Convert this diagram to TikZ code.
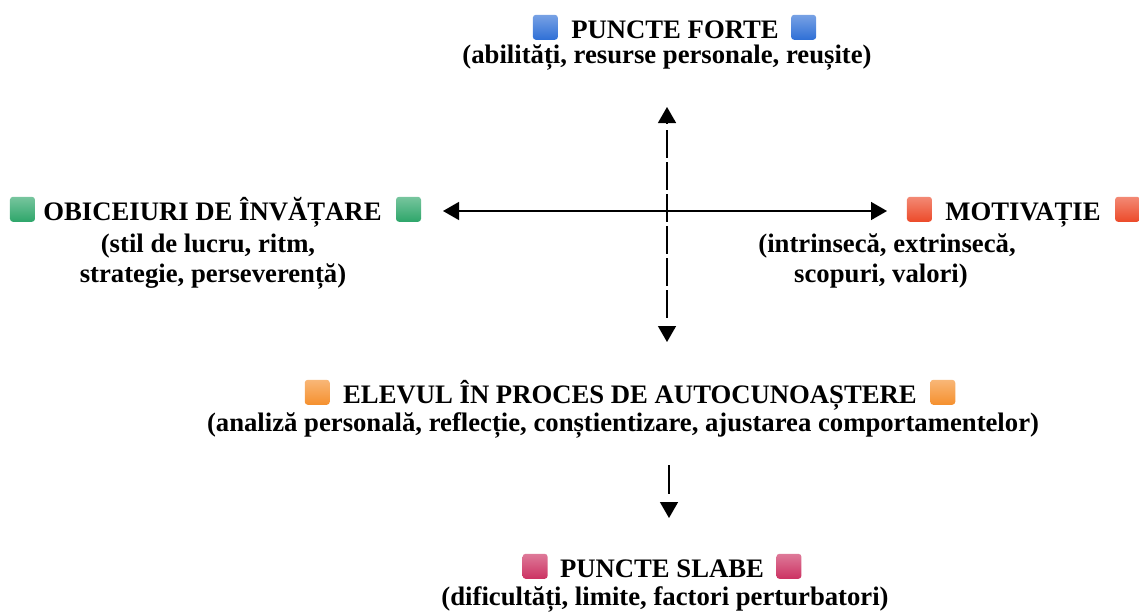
\documentclass[tikz,border=0pt]{standalone}
\usepackage{fontspec}
\setmainfont{Liberation Serif}
\usetikzlibrary{arrows.meta,positioning}
\definecolor{sqblue}{HTML}{2F6FD6}
\definecolor{sqgreen}{HTML}{2EA66A}
\definecolor{sqred}{HTML}{EC4A2A}
\definecolor{sqorange}{HTML}{F5902E}
\definecolor{sqpink}{HTML}{CC3262}
\begin{document}
\begin{tikzpicture}[x=1pt,y=-1pt,
  >={Triangle[width=18pt,length=16pt]},
  lbl/.style={font=\fontsize{26.7}{30}\selectfont\bfseries, inner sep=0pt, anchor=base},
  sq/.style={minimum size=25pt, inner sep=0pt, rounded corners=3pt,
    top color=#1!65!white, bottom color=#1, draw=none},
  arr/.style={line width=1.4pt},
  headonly/.style={line width=1.4pt, ->},
]
\useasboundingbox (0,0) rectangle (1139,613);

% top
\node[lbl] (forte) at (675,38) {PUNCTE FORTE};
\node[lbl] (forteS) at (667,63) {(abilități, resurse personale, reușite)};
\node[sq=sqblue, anchor=south east] (forteL) at ([xshift=-13pt,yshift=-2pt]forte.base west) {};
\node[sq=sqblue, anchor=south west] (forteR) at ([xshift=12pt,yshift=-2pt]forte.base east) {};

% left
\node[lbl] (obic) at (212.5,220) {OBICEIURI DE ÎNVĂȚARE};
\node[lbl] (obicS1) at (208,252) {(stil de lucru, ritm,};
\node[lbl] (obicS2) at (213,282) {strategie, perseverență)};
\node[sq=sqgreen, anchor=south east] (obicL) at ([xshift=-8pt,yshift=-2pt]obic.base west) {};
\node[sq=sqgreen, anchor=south west] (obicR) at ([xshift=14pt,yshift=-2pt]obic.base east) {};

% right
\node[lbl] (moti) at (1023,220) {MOTIVAȚIE};
\node[lbl] (motiS1) at (887,252) {(intrinsecă, extrinsecă,};
\node[lbl] (motiS2) at (881,282) {scopuri, valori)};
\node[sq=sqred, anchor=south east] (motiL) at ([xshift=-13pt,yshift=-2pt]moti.base west) {};
\node[sq=sqred, anchor=south west] (motiR) at ([xshift=14pt,yshift=-2pt]moti.base east) {};

% centre
\node[lbl] (elev) at (630,403) {ELEVUL ÎN PROCES DE AUTOCUNOAȘTERE};
\node[lbl] (elevS) at (623,431) {(analiză personală, reflecție, conștientizare, ajustarea comportamentelor)};
\node[sq=sqorange, anchor=south east] (elevL) at ([xshift=-13pt,yshift=-2pt]elev.base west) {};
\node[sq=sqorange, anchor=south west] (elevR) at ([xshift=13pt,yshift=-2pt]elev.base east) {};

% bottom
\node[lbl] (slab) at (662,577) {PUNCTE SLABE};
\node[lbl] (slabS) at (665,605) {(dificultăți, limite, factori perturbatori)};
\node[sq=sqpink, anchor=south east] (slabL) at ([xshift=-12pt,yshift=-2pt]slab.base west) {};
\node[sq=sqpink, anchor=south west] (slabR) at ([xshift=12pt,yshift=-2pt]slab.base east) {};

% connectors
\coordinate (vTop) at (667,107);
\coordinate (vTopB) at (667,123);
\coordinate (vLineA) at (667,130);
\coordinate (vLineB) at (667,319);
\coordinate (vBotB) at (667,326);
\coordinate (vBot) at (667,342);
\coordinate (hL) at (443,211);
\coordinate (hR) at (887,211);
\coordinate (dStart) at (669,465);
\coordinate (dLineEnd) at (669,494);
\coordinate (dTipB) at (669,502);
\coordinate (dEnd) at (669,518);

% vertical dashed double arrow (heads detached from the line)
\draw[line width=1.9pt, dash pattern=on 28pt off 4pt] (vLineA) -- (vLineB);
\draw[headonly] (vTopB) -- (vTop);
\draw[headonly] (vBotB) -- (vBot);
% horizontal double arrow
\draw[arr, <->] (hL) -- (hR);
% downward arrow
\draw[line width=1.4pt] (dStart) -- (dLineEnd);
\draw[headonly] (dTipB) -- (dEnd);
\end{tikzpicture}
\end{document}
